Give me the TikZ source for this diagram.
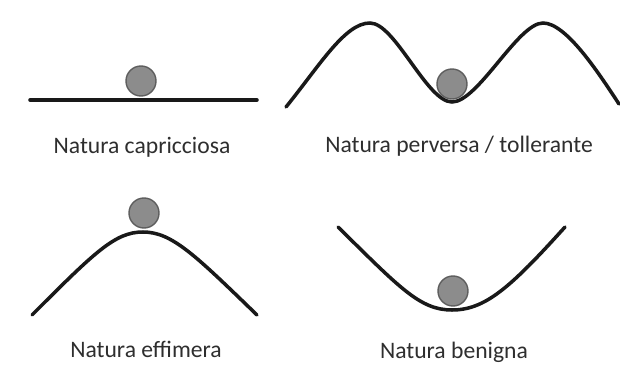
\documentclass[tikz,border=0pt]{standalone}
\usepackage{fontspec}
\setmainfont{Carlito}
\usetikzlibrary{positioning}

\definecolor{ballfill}{HTML}{8C8C8C}
\definecolor{balledge}{HTML}{5E5E5E}
\definecolor{labelgray}{HTML}{2E2E2E}

\begin{document}
\begin{tikzpicture}[
  x=0.025cm, y=-0.025cm,
  track/.style={line width=2.5pt, draw=black!90, line cap=round},
  ball/.style={circle, fill=ballfill, draw=balledge, line width=1pt,
               minimum size=0.75cm, inner sep=0pt},
  caption/.style={anchor=base, text=labelgray,
                  font=\fontsize{16.8}{20}\selectfont}
]
  \useasboundingbox (0,0) rectangle (620,374);

  % flat track
  \draw[track] (30,100) -- (257,100);
  \node[ball] (ballflat) at (141,81) {};
  \node[caption] (capflat) at (142,154) {Natura capricciosa};

  % two hills, ball in the dip
  \draw[track] (286,107) .. controls (320,65) and (345,23) .. (370,23)
    .. controls (395,23) and (427,102) .. (452,102)
    .. controls (478,102) and (518,23) .. (543,23)
    .. controls (566,23) and (598,72) .. (619,104);
  \node[ball] (balldip) at (452,84) {};
  \node[caption] (capdip) at (459,153) {Natura perversa / tollerante};

  % single hill, ball on top
  \draw[track] (32,315) .. controls (95,252) and (115,232) .. (143,232)
    .. controls (172,232) and (195,255) .. (257,315);
  \node[ball] (balltop) at (144,213) {};
  \node[caption] (captop) at (146,357) {Natura effimera};

  % valley, ball at the bottom
  \draw[track] (338,227) .. controls (400,288) and (420,310) .. (452,310)
    .. controls (485,310) and (510,288) .. (565,227);
  \node[ball] (ballvalley) at (453,291) {};
  \node[caption] (capvalley) at (454,358) {Natura benigna};
\end{tikzpicture}
\end{document}
